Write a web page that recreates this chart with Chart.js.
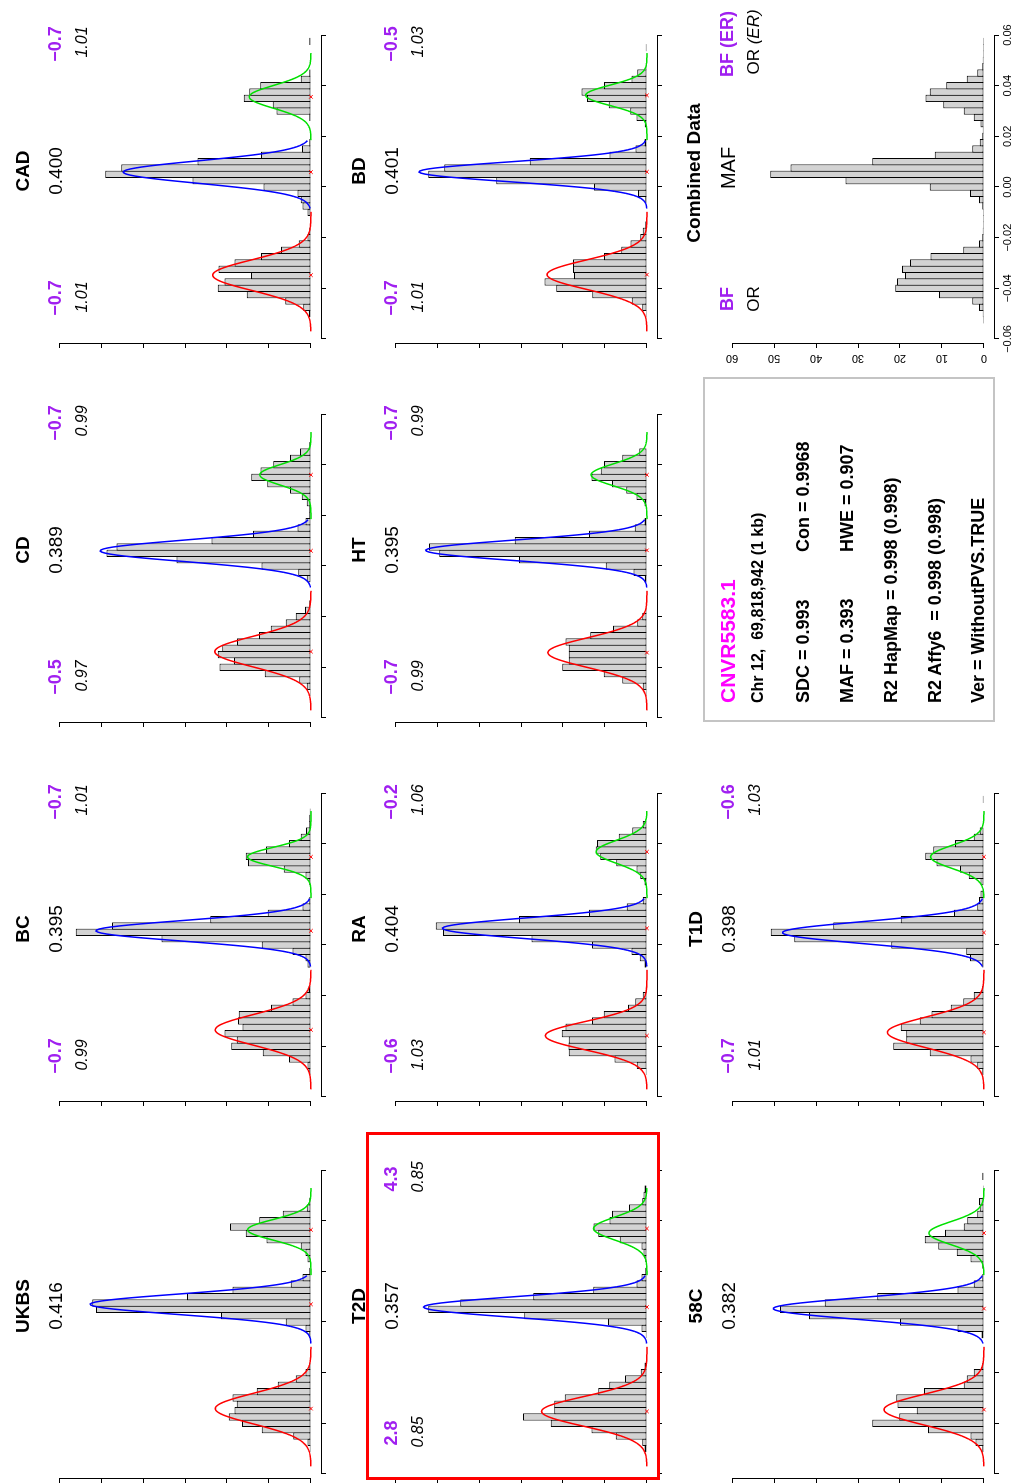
<!DOCTYPE html>
<html>
<head>
<meta charset="utf-8">
<title>CNVR5583.1</title>
<script src="https://cdn.jsdelivr.net/npm/chart.js"></script>
<style>
  html, body { margin: 0; padding: 0; background: #fff; overflow: hidden; }
  #page {
    position: absolute; left: 0; top: 0;
    width: 1484px; height: 1012px;
    transform-origin: 0 0;
    transform: translateY(1484px) rotate(-90deg);
    font-family: "Liberation Sans", Arial, Helvetica, sans-serif;
    color: #000;
    background: #fff;
  }
  #page canvas { position: absolute; }
  .txt { position: absolute; white-space: pre; line-height: 1; }
  .frame { position: absolute; box-sizing: border-box; }
</style>
</head>
<body>
<div id="page"></div>
<script>
// ---- values ----
const binCenters = [-0.055, -0.0525, -0.05, -0.0475, -0.045, -0.0425, -0.04, -0.0375, -0.035, -0.0325,
  -0.03, -0.0275, -0.025, -0.0225, -0.02, -0.0175, -0.015, -0.0125, -0.01, -0.0075, -0.005, -0.0025,
  0, 0.0025, 0.005, 0.0075, 0.01, 0.0125, 0.015, 0.0175, 0.02, 0.0225, 0.025, 0.0275, 0.03, 0.0325,
  0.035, 0.0375, 0.04, 0.0425, 0.045, 0.0475, 0.05, 0.0525, 0.055, 0.0575];

const densUKBS = [0, 0, 0.3, 0.8, 4.2, 11.7, 16.4, 19.6, 18.2, 17.7, 18.7, 12.9, 7.9, 3.6, 1.3, 0.4, 0, 0, 0, 0, 0.4, 1.3, 6.0, 21.4, 51.2, 52.1, 29.5, 18.7, 4.8, 2.0, 0.4, 0, 0.8, 1.3, 2.4, 10.6, 15.5, 19.3, 12.3, 6.7, 1.0, 0.4, 0.2, 0, 0, 0];
const densBC = [0, 0, 0.4, 0.8, 5.2, 11.5, 19.0, 17.7, 20.6, 16.3, 17.4, 17.2, 9.5, 4.4, 1.3, 0.6, 0, 0, 0, 0.8, 1.3, 4.4, 11.7, 35.6, 56.0, 47.4, 24.0, 10.3, 2.0, 0.4, 0, 0, 0.4, 1.3, 6.5, 15.0, 15.5, 10.7, 5.2, 2.4, 1.2, 0.4, 0.4, 0.3, 0, 0];
const densCD = [0, 0, 0.2, 1.0, 2.8, 11.0, 21.8, 18.3, 22.2, 21.1, 17.6, 12.4, 9.6, 6.0, 3.6, 1.4, 0.4, 0, 0, 0, 1.0, 3.0, 11.8, 32.0, 48.7, 46.3, 23.7, 13.8, 3.2, 1.3, 0.4, 0.4, 1.0, 2.2, 5.0, 10.4, 14.2, 12.0, 9.0, 5.0, 2.6, 0.4, 0, 0, 0, 0];
const densCAD = [0, 0, 0.5, 1.8, 6.1, 15.3, 22.2, 20.6, 14.3, 22.0, 18.2, 11.9, 7.1, 2.9, 0.8, 0.4, 0, 0, 0.8, 2.0, 2.4, 3.2, 11.3, 28.2, 49.0, 45.2, 27.0, 11.9, 2.1, 0.4, 0, 0, 0, 0.4, 8.2, 9.1, 16.0, 14.7, 12.1, 2.4, 0.4, 0, 0, 0, 0, 0.4];
const densT2D = [0, 0, 0.6, 1.1, 7.4, 13.2, 22.9, 29.5, 22.1, 22.1, 19.6, 11.6, 9.0, 5.2, 1.5, 0.6, 0, 0, 0, 0, 0.3, 1.3, 9.3, 29.2, 52.1, 44.5, 27.1, 12.8, 2.5, 1.3, 0.4, 0, 0.4, 0.8, 1.3, 6.5, 11.6, 12.7, 8.9, 8.3, 4.3, 1.1, 0.8, 0.6, 0, 0];
const densRA = [0, 0, 0.3, 2.4, 7.7, 18.6, 18.7, 18.6, 20.3, 19.4, 13.1, 10.3, 4.5, 2.8, 1.0, 0.3, 0, 0, 0, 0.6, 1.7, 3.7, 13.1, 27.5, 48.6, 50.3, 30.5, 13.8, 4.8, 1.0, 0, 0, 0.6, 1.6, 2.5, 7.3, 11.1, 12.2, 11.9, 6.7, 3.5, 1.0, 0, 0, 0, 0];
const densHT = [0, 0, 0.3, 1.0, 5.9, 10.3, 20.2, 18.6, 18.6, 18.6, 19.4, 13.5, 8.1, 2.3, 1.1, 0.3, 0, 0, 0, 0, 0.5, 3.2, 9.8, 30.5, 49.5, 51.9, 31.5, 13.8, 2.9, 0.6, 0, 0, 0.6, 2.5, 4.9, 8.3, 13.2, 11.0, 10.2, 5.9, 1.8, 0, 0, 0, 0, 0];
const densBD = [0, 0, 0.2, 1.1, 3.6, 13.0, 21.6, 24.4, 17.4, 17.6, 17.6, 10.2, 6.1, 3.9, 1.6, 1.0, 0.4, 0, 0, 0, 0.4, 2.1, 12.6, 35.9, 52.1, 48.3, 27.9, 8.9, 2.7, 0.6, 0, 0, 0.5, 2.5, 4.0, 9.1, 14.3, 15.6, 10.2, 3.7, 2.3, 0.3, 0, 0, 0.3, 0];
const dens58C = [0.2, 0, 0.4, 2.0, 3.2, 13.3, 26.6, 20.2, 16.0, 20.6, 20.9, 14.3, 4.8, 4.1, 2.4, 0.4, 0, 0, 0, 0, 0.6, 6.3, 20.0, 41.7, 48.6, 37.9, 25.4, 6.3, 2.4, 0.4, 0, 0.4, 3.2, 6.5, 10.9, 14.1, 9.3, 4.8, 4.0, 1.6, 1.0, 1.2, 0, 0.2, 0, 0.4];
const densT1D = [0, 0, 0.4, 1.6, 3.2, 12.9, 21.6, 18.5, 18.5, 19.8, 15.3, 12.5, 7.9, 4.9, 2.4, 0.4, 0, 0, 0, 0.4, 3.3, 4.2, 22.1, 45.2, 50.8, 35.9, 19.8, 7.1, 1.6, 1.2, 0.8, 0, 0.8, 3.6, 5.7, 11.3, 14.0, 12.1, 6.9, 2.4, 1.0, 0, 0, 0, 0, 0.3];
const densCombined = [0, 0.2, 0.3, 1.2, 2.8, 10.7, 21.1, 20.7, 18.8, 19.5, 17.6, 12.7, 4.9, 1.2, 0.4, 0.3, 0.2, 0.2, 0.2, 0.4, 1.2, 3.3, 12.9, 33.0, 50.9, 46.1, 26.6, 11.7, 2.8, 1.0, 0.4, 0.3, 0.8, 2.4, 4.8, 9.7, 13.9, 12.9, 9.0, 4.1, 1.6, 0.4, 0.3, 0.2, 0.2, 0.2];

const panelNames = ["UKBS", "BC", "CD", "CAD", "T2D", "RA", "HT", "BD", "58C", "T1D"];
const panelDens = [densUKBS, densBC, densCD, densCAD, densT2D, densRA, densHT, densBD, dens58C, densT1D];
const mafText = ["0.416", "0.395", "0.389", "0.400", "0.357", "0.404", "0.395", "0.401", "0.382", "0.398"];
const bfLeft = ["", "\u22120.7", "\u22120.5", "\u22120.7", "2.8", "\u22120.6", "\u22120.7", "\u22120.7", "", "\u22120.7"];
const orLeft = ["", "0.99", "0.97", "1.01", "0.85", "1.03", "0.99", "1.01", "", "1.01"];
const bfRight = ["", "\u22120.7", "\u22120.7", "\u22120.7", "4.3", "\u22120.2", "\u22120.7", "\u22120.5", "", "\u22120.6"];
const orRight = ["", "1.01", "0.99", "1.01", "0.85", "1.06", "0.99", "1.03", "", "1.03"];

// fitted normal components (mean, peak height, sd)
const redMean = [-0.0342, -0.0335, -0.0338, -0.0348, -0.0353, -0.0358, -0.0342, -0.0346, -0.0346, -0.0345];
const redPeak = [22.8, 22.8, 22.9, 23.4, 25.1, 24.2, 23.6, 23.8, 23.8, 23.0];
const redSd = [0.0060, 0.0060, 0.0060, 0.0060, 0.0058, 0.0056, 0.0058, 0.0058, 0.0060, 0.0060];
const blueMean = [0.0070, 0.0056, 0.0060, 0.0059, 0.0059, 0.0066, 0.0062, 0.0060, 0.0053, 0.0049];
const bluePeak = [52.6, 51.2, 50.2, 44.7, 53.2, 48.7, 52.7, 54.3, 50.2, 48.0];
const blueSd = [0.0040, 0.0040, 0.0042, 0.0044, 0.0040, 0.0040, 0.0040, 0.0039, 0.0042, 0.0043];
const greenMean = [0.0364, 0.0348, 0.0360, 0.0356, 0.0369, 0.0368, 0.0360, 0.0362, 0.0351, 0.0348];
const greenPeak = [15.1, 15.1, 12.2, 14.7, 12.7, 12.1, 13.3, 14.6, 13.1, 12.7];
const greenSd = [0.0040, 0.0037, 0.0040, 0.0045, 0.0045, 0.0045, 0.0043, 0.0040, 0.0045, 0.0045];
const redRange = [-0.057, -0.0095];
const blueRange = [-0.0085, 0.0185];
const greenRange = [0.0185, 0.053];

// ---- layout ----
const slotCol = [0, 1, 2, 3, 0, 1, 2, 3, 0, 1];
const slotRow = [0, 0, 0, 0, 1, 1, 1, 1, 2, 2];
const colX0 = [10, 387, 766, 1145];   // pixel of -0.06 on the value axis
const rowTop = [59, 395, 732];        // pixel of density 60
const CA_W = 312, CA_H = 272, TICK = 5;

const page = document.getElementById('page');
Chart.defaults.font.family = '"Liberation Sans", Arial, sans-serif';
Chart.defaults.color = '#000';

// R-style axis lines, drawn from first to last tick only
const rAxisLines = {
  id: 'rAxisLines',
  afterDraw(chart) {
    const ctx = chart.ctx, xs = chart.scales.x, ys = chart.scales.y;
    const xt = xs.ticks, yt = ys.ticks;
    ctx.save();
    ctx.strokeStyle = '#000';
    ctx.lineWidth = 1;
    ctx.beginPath();
    const yb = Math.round(xs.top) + 0.5;
    ctx.moveTo(xs.getPixelForValue(xt[0].value), yb);
    ctx.lineTo(xs.getPixelForValue(xt[xt.length - 1].value), yb);
    const xl = Math.round(ys.right) - 0.5;
    ctx.moveTo(xl, ys.getPixelForValue(yt[0].value));
    ctx.lineTo(xl, ys.getPixelForValue(yt[yt.length - 1].value));
    ctx.stroke();
    ctx.restore();
  }
};

function gaussPoints(mu, sd, peak, range) {
  const pts = [];
  for (let x = range[0]; x <= range[1] + 1e-9; x += 0.0004) {
    pts.push({ x: x, y: peak * Math.exp(-0.5 * Math.pow((x - mu) / sd, 2)) });
  }
  return pts;
}

function addText(str, x, y, css, left) {
  const d = document.createElement('div');
  d.className = 'txt';
  d.innerHTML = str;
  d.style.cssText += css;
  d.style.left = x + 'px';
  d.style.top = y + 'px';
  d.style.transform = left ? 'translate(0,-50%)' : 'translate(-50%,-50%)';
  page.appendChild(d);
}

function histChart(x0, yTop, dens, fits, labelled) {
  // axis box sizes are fixed so the plot area lands at a known place
  const yW = labelled ? 28 : TICK, xH = labelled ? 22 : TICK;
  const padL = labelled ? 8 : 12, padR = 14, padT = 20, padB = 6;
  const cv = document.createElement('canvas');
  cv.width = padL + yW + CA_W + padR;
  cv.height = padT + CA_H + xH + padB;
  cv.style.left = (x0 - 4 - yW - padL) + 'px';
  cv.style.top = (yTop - 10 - padT) + 'px';
  page.appendChild(cv);

  const datasets = [];
  if (fits) {
    fits.forEach(f => datasets.push({
      type: 'line', data: gaussPoints(f.mean, f.sd, f.peak, f.range),
      borderColor: f.color, borderWidth: 1.5, pointRadius: 0, fill: false, tension: 0, order: 1
    }));
    datasets.push({
      type: 'line', data: fits.map(f => ({ x: f.mean, y: 0 })), showLine: false,
      pointStyle: 'crossRot', pointRadius: 2.5, borderColor: '#ff0000', borderWidth: 1, order: 0
    });
  }
  datasets.push({
    type: 'bar', data: binCenters.map((c, i) => ({ x: c, y: dens[i] })),
    backgroundColor: '#d3d3d3', borderColor: '#000', borderWidth: 1, borderSkipped: false,
    barPercentage: 1.16, categoryPercentage: 1, order: 2
  });

  const tickFmt = v => (v < -1e-9 ? '\u2212' : '') + Math.abs(v).toFixed(2);
  new Chart(cv, {
    type: 'bar',
    data: { datasets: datasets },
    options: {
      responsive: false, animation: false, events: [],
      layout: { padding: { left: padL, right: padR, top: padT, bottom: padB } },
      plugins: { legend: { display: false }, tooltip: { enabled: false } },
      scales: {
        x: {
          type: 'linear', min: -0.0616, max: 0.0616, offset: false,
          grid: { offset: false, drawOnChartArea: false, drawTicks: true, tickLength: TICK, color: '#000' },
          border: { display: false },
          ticks: { stepSize: 0.02, includeBounds: false, display: labelled, autoSkip: false,
                   maxRotation: 0, padding: 2, font: { size: 11 }, callback: tickFmt },
          afterFit: s => { s.height = xH; }
        },
        y: {
          type: 'linear', min: -2.4, max: 62.4,
          grid: { drawOnChartArea: false, drawTicks: true, tickLength: TICK, color: '#000' },
          border: { display: false },
          ticks: { stepSize: 10, includeBounds: false, display: labelled, minRotation: 90, maxRotation: 90,
                   crossAlign: 'center', padding: 4, font: { size: 11 } },
          afterFit: s => { s.width = yW; }
        }
      }
    },
    plugins: [rAxisLines]
  });
}

const PURPLE = '#a020f0';

panelNames.forEach((name, i) => {
  const x0 = colX0[slotCol[i]], yt = rowTop[slotRow[i]];
  const fits = [
    { mean: redMean[i], peak: redPeak[i], sd: redSd[i], range: redRange, color: '#ff0000' },
    { mean: blueMean[i], peak: bluePeak[i], sd: blueSd[i], range: blueRange, color: '#0000ff' },
    { mean: greenMean[i], peak: greenPeak[i], sd: greenSd[i], range: greenRange, color: '#00e000' }
  ];
  histChart(x0, yt, panelDens[i], fits, false);
  addText(name, x0 + 168, yt - 37, 'font-weight:bold;font-size:19px;');
  addText(mafText[i], x0 + 168, yt - 4, 'font-size:19px;');
  if (bfLeft[i]) {
    addText(bfLeft[i], x0 + 41, yt - 4, 'font-weight:bold;font-size:18px;color:' + PURPLE + ';');
    addText(orLeft[i], x0 + 42, yt + 23, 'font-style:italic;font-size:16px;');
    addText(bfRight[i], x0 + 295, yt - 4, 'font-weight:bold;font-size:18px;color:' + PURPLE + ';');
    addText(orRight[i], x0 + 297, yt + 23, 'font-style:italic;font-size:16px;');
  }
});

// combined data panel
histChart(colX0[3], rowTop[2], densCombined, null, true);
addText('Combined Data', colX0[3] + 166, rowTop[2] - 39, 'font-weight:bold;font-size:19px;');
addText('MAF', colX0[3] + 171, rowTop[2] - 4, 'font-size:20px;');
addText('BF', colX0[3] + 40, rowTop[2] - 5, 'font-weight:bold;font-size:18px;color:' + PURPLE + ';');
addText('OR', colX0[3] + 40, rowTop[2] + 21, 'font-size:17px;');
addText('BF (ER)', colX0[3] + 295, rowTop[2] - 5, 'font-weight:bold;font-size:18px;color:' + PURPLE + ';');
addText('OR <i>(ER)</i>', colX0[3] + 297, rowTop[2] + 21, 'font-size:17px;');

// highlighted T2D panel
const hl = document.createElement('div');
hl.className = 'frame';
hl.style.cssText += 'left:4px;top:366px;width:348px;height:294px;border:3px solid #ff0000;';
page.appendChild(hl);

// summary box
const box = document.createElement('div');
box.className = 'frame';
box.style.cssText += 'left:762px;top:703px;width:345px;height:292px;border:2px solid #c4c4c4;';
page.appendChild(box);
addText('CNVR5583.1', 781, 727, 'font-weight:bold;font-size:21px;color:#ff00ff;', true);
addText('Chr 12,  69,818,942 (1 kb)', 781, 758, 'font-weight:bold;font-size:16px;', true);
addText('SDC = 0.993', 781, 803, 'font-weight:bold;font-size:18px;', true);
addText('Con = 0.9968', 932, 803, 'font-weight:bold;font-size:18px;', true);
addText('MAF = 0.393', 781, 847, 'font-weight:bold;font-size:18px;', true);
addText('HWE = 0.907', 932, 847, 'font-weight:bold;font-size:18px;', true);
addText('R2 HapMap = 0.998 (0.998)', 781, 891, 'font-weight:bold;font-size:18px;', true);
addText('R2 Affy6  = 0.998 (0.998)', 781, 935, 'font-weight:bold;font-size:18px;', true);
addText('Ver = WithoutPVS.TRUE', 781, 978, 'font-weight:bold;font-size:18px;', true);
</script>
</body>
</html>
